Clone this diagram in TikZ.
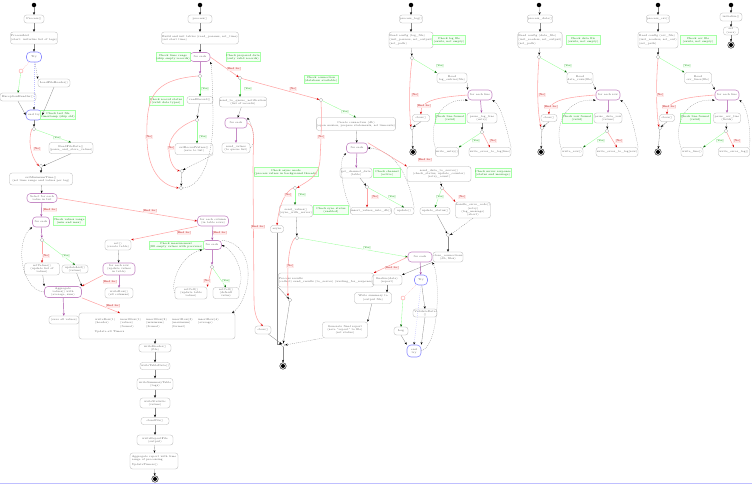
\documentclass[tikz,border=0pt]{standalone}
\usetikzlibrary{arrows.meta,shapes.geometric}
\begin{document}
\begin{tikzpicture}[x=1pt,y=-1pt,
  base/.style={font=\fontsize{2.7}{3.2}\selectfont, text=black!65, inner sep=0.5pt, align=center},
  box/.style={base, draw=black!30, line width=0.3pt, rounded corners=2.5pt},
  note/.style={base, draw=green!35, fill=green!4, text=green!50!black, line width=0.3pt},
  loopb/.style={base, draw=violet!45, line width=0.6pt, rounded corners=3.5pt},
  tryb/.style={base, draw=blue!45, line width=0.6pt, rounded corners=4pt},
  dec/.style={diamond, draw=black!30, line width=0.3pt, minimum size=4pt, inner sep=0},
  startn/.style={circle, fill=black, minimum size=4.5pt, inner sep=0},
  endn/.style={circle, draw=black, line width=0.4pt, minimum size=6.5pt, inner sep=0, path picture={\fill[black] (path picture bounding box.center) circle (2pt);}},
  excn/.style={circle, draw=red!40, minimum size=4pt, inner sep=0, line width=0.4pt},
  wh/.style 2 args={minimum width=#1pt, minimum height=#2pt},
  ar/.style={draw=black!45, line width=0.3pt, -{Stealth[length=2.6pt,width=2pt,color=black]}},
  dar/.style={ar, dash pattern=on 1pt off 1pt},
  yesa/.style={draw=green!40, line width=0.35pt, -{Stealth[length=2.6pt,width=2pt,color=green!40!black]}},
  noa/.style={draw=red!35, line width=0.55pt, -{Stealth[length=2.6pt,width=2pt,color=red!85!black]}},
  pura/.style={draw=violet!45, line width=0.7pt, -{Stealth[length=2.6pt,width=2pt,color=violet!70]}},
  blua/.style={draw=blue!25, line width=0.35pt, dash pattern=on 0.8pt off 1.2pt, -{Stealth[length=2.6pt,width=2pt,color=black]}},
  pinkd/.style={draw=red!30, line width=0.3pt, dash pattern=on 1pt off 1pt},
  ylab/.style={font=\fontsize{2.6}{3}\selectfont, text=green!55!black, fill=green!5, inner sep=0.4pt},
  nlab/.style={font=\fontsize{2.6}{3}\selectfont, text=red!70!black, fill=red!8, inner sep=0.4pt},
]
\useasboundingbox (0,0) rectangle (752,485);
\draw[blue!25, line width=0.6pt] (0,483.5) -- (752,483.5);

% ================= Column A =================
\node[startn] (sA) at (34,5) {};
\node[box, wh={20}{8}] (A2) at (34,19) {Process()};
\node[box, wh={46}{12}, align=left] (A3) at (34,38) {ProcessList\\(start: initialize list of tags)};
\node[tryb, wh={15}{10}] (A4) at (34,57) {Try};
\node[excn] (A5) at (21,71) {};
\node[box, wh={36}{8}] (A6) at (18,97) {ExceptionHandler()};
\node[box, wh={32}{8}] (A7) at (54,83) {LoadFileHeader()};
\node[tryb, wh={16}{10}] (A8) at (34,115) {end try};
\node[note, wh={29}{9}] (A9) at (58,115) {Check last file\\timestamp (skip old)};
\node[dec] (A10) at (34,129) {};
\node[box, wh={38}{11}] (A11) at (71,148) {ReadFileData()\\(parse\_and\_store\_values)};
\node[dec] (A12) at (41,166) {};
\node[box, wh={63}{12}] (A13) at (41,179) {setMinimumTime()\\(set time range and values per tag)};
\node[loopb, wh={30}{9}] (A14) at (42,198) {Select for each\\value in list};
\node[loopb, wh={17}{10}] (A15) at (41,222) {for each};
\node[note, wh={32}{9}] (A16) at (69,221) {Check values range\\(min and max)};
\node[dec] (A17) at (42,240) {};
\node[box, wh={35}{12}] (A18) at (42,269) {setValues()\\(update list of\\values)};
\node[box, wh={26}{8}] (A19) at (75,269) {updateList()\\(values)};
\node[loopb, wh={37}{11}] (A20) at (63,292) {Aggregate\\values() with\\(average, sum)};
\node[box, wh={30}{8}] (D0) at (64,320) {(save all values)};

\draw[ar] (sA) -- (A2);
\draw[ar] (A2) -- (A3);
\draw[ar] (A3) -- (A4);
\draw[pinkd] (A4) -- (A5);
\draw[yesa] (A5) -- (A6.north);
\draw[dar] (A4) -- (A7.north west);
\draw[blua] (A4) -- (A8);
\draw[ar] (A6.south) -- (A8.west);
\draw[ar] (A7.south) -- (A8.east);
\draw[ar] (A8) -- (A10);
\draw[yesa] (A10) -- (A11.north);
\node[ylab] (lA1) at (57,138) {[Yes]};
\draw[noa] (A10.west) .. controls (28,140) and (30,155) .. (A12.west);
\node[nlab] (lA2) at (37,149) {[No]};
\draw[ar] (A11.south) -- (A12.east);
\draw[ar] (A12) -- (A13);
\draw[ar] (A13) -- (A14);
\draw[pura] (A14) -- (A15);
\node[nlab] (lA3) at (50,210) {[End for]};
\draw[pura] (A15) -- (A17);
\draw[noa] (A17) -- (A18);
\node[nlab] (lA4) at (46,256) {[No]};
\draw[yesa] (A17) -- (A19.north);
\node[ylab] (lA5) at (66,256) {[Yes]};
\draw[ar] (A18) -- (A20.north west);
\draw[ar] (A19) -- (A20.north east);
\draw[dar] (A20.west) .. controls (20,290) and (15,240) .. (A15.south west);
\draw[pura] (A20) -- (D0);

% ================= Column C =================
\node[box, wh={26}{10}] (C0) at (118,245) {set()\\(create table)};
\node[loopb, wh={32}{12}] (C1) at (119,269) {for each row\\(update values\\in table)};
\node[box, wh={28}{10}] (C2) at (119,293) {writeRow()\\(all columns)};
\draw[ar] (C0) -- (C1);
\draw[pura] (C1) -- (C2);
\draw[noa] (C1.south west) -- (A20.north east);
\node[nlab] (lC1) at (110,282) {[End for]};

% ================= Column B lower =================
\node[loopb, wh={31}{10}] (B1) at (213,221) {for each column\\(in table rows)};
\node[loopb, wh={19}{9}] (B2) at (212,245) {for each};
\node[note, wh={53}{8}] (Bn2) at (176,245) {Check measurement\\(fill empty values with previous)};
\node[dec] (B3d) at (212,267) {};
\node[box, wh={32}{12}] (B3) at (191,293) {setCell()\\(update table\\values)};
\node[box, wh={26}{11}] (B4) at (226,293) {setCell()\\(default\\value)};
\draw[noa] (A14.east) -- (B1.west);
\node[nlab] (lB1) at (150,211) {[End for]};
\draw[noa] (B1.south west) -- (C0.north east);
\node[nlab] (lB2) at (184,233) {[End for]};
\draw[pura] (B1) -- (B2);
\node[nlab] (lB3) at (220,233) {[End for]};
\draw[pura] (B2) -- (B3d);
\draw[noa] (B3d) -- (B3.north east);
\node[nlab] (lB4) at (207,281) {[No]};
\draw[yesa] (B3d) -- (B4.north);
\node[ylab] (lB5) at (226,281) {[Yes]};
\draw[dar] (B4.north east) .. controls (245,275) and (236,252) .. (B2.east);
\draw[dar] (B3.west) .. controls (170,285) and (180,255) .. (B2.south west);
\draw[dar] (B2.north east) .. controls (260,245) and (250,300) .. (232,313);

% ================= big box and chain =================
\node[box, wh={156}{26}] (D1) at (157,326) {\begin{tabular}{@{}l@{\hspace{5pt}}l@{\hspace{5pt}}l@{\hspace{5pt}}l@{\hspace{5pt}}l@{}}writeRow(1) & insertRow(1) & insertRow(2) & insertRow(3) & insertRow(4)\\(header) & (values) & (minimum) & (maximum) & (average)\\ & (format) & (format) & (format) & \end{tabular}\\[2pt]\hspace*{-95pt}Update all Timers};
\draw[noa] (A20.south east) -- (120,313);
\node[nlab] (lD1) at (113,306) {[End for]};
\node[box, wh={32}{8}] (D2) at (155,348) {writeHeader()\\(file)};
\node[box, wh={30}{7}] (D3) at (155,366) {writeTableData()};
\node[box, wh={36}{11}] (D4) at (155,384) {writeSummaryTable\\(tags)};
\node[box, wh={30}{10}] (D5) at (155,403) {writeStatistic\\(values)};
\node[box, wh={28}{7}] (D6) at (155,421) {closeFile()};
\node[box, wh={36}{10}] (D7) at (155,440) {writeReportFile\\(output)};
\node[box, wh={48}{16}, align=left] (D8) at (154,461) {Aggregate report with time\\range of processing\\[2pt]UpdateTimers()};
\node[endn] (D9) at (155,479) {};
\draw[ar] (D1.south -| D2) -- (D2);
\draw[ar] (D2) -- (D3);
\draw[ar] (D3) -- (D4);
\draw[ar] (D4) -- (D5);
\draw[ar] (D5) -- (D6);
\draw[ar] (D6) -- (D7);
\draw[ar] (D7) -- (D8);
\draw[ar] (D8) -- (D9);

% ================= Column B top =================
\node[startn] (sB) at (200,5) {};
\node[box, wh={24}{8}] (Bb) at (200,19) {process()};
\node[box, wh={76}{12}, align=left] (Bc) at (200,38) {Build and init tables (read\_params, set\_time)\\(set start time)};
\node[loopb, wh={20}{9}] (Bd) at (200,57) {for each};
\node[note, wh={30}{9}] (BnL) at (173,57) {Check time range\\(skip empty records)};
\node[note, wh={32}{9}] (BnR) at (243,57) {Check prepared data\\(only valid records)};
\node[dec] (Be) at (200,76) {};
\node[box, wh={26}{7}] (Bf) at (200,100) {readRecord()};
\node[note, wh={34}{9}] (Bfn) at (166,101) {Check record status\\(valid data types)};
\node[dec] (Bg) at (197,120) {};
\node[box, wh={38}{11}] (Bh) at (194,149) {setRecordValues()\\(save to list)};
\node[dec] (Bn) at (182,171) {};
\node[dec] (Bm) at (181,188) {};
\node[dec] (Bi) at (240,78) {};
\node[box, wh={43}{10}] (Bj) at (243,102) {send\_to\_queue\_notification\\(list of records)};
\node[loopb, wh={22}{10}] (Bl) at (236,123) {for each};
\node[box, wh={28}{10}] (Bo) at (236,148) {send\_values\\(to queue list)};
\node[dec] (Bk) at (321,100) {};
\node[note, wh={29}{8}] (Bkn) at (321,79) {Check connection\\(database available)};
\node[box, wh={16}{8}] (E1) at (263,330) {close()};
\node[dec] (Fz) at (283,345) {};
\node[endn] (Fend) at (283,366) {};

\draw[ar] (sB) -- (Bb);
\draw[ar] (Bb) -- (Bc);
\draw[ar] (Bc) -- (Bd);
\draw[pura] (Bd) -- (Be);
\draw[yesa] (Be) -- (Bf);
\node[ylab] (lBa) at (205,89) {[Yes]};
\draw[noa] (Be.west) .. controls (150,80) and (146,100) .. (147,140) .. controls (148,175) and (165,186) .. (Bm.west);
\node[nlab] (lBb) at (149,137) {[No]};
\draw[ar] (Bf) -- (Bg);
\draw[yesa] (Bg) -- (Bh.north -| Bg);
\node[ylab] (lBc) at (203,137) {[Yes]};
\draw[noa] (Bg.west) .. controls (175,128) and (168,140) .. (169,152) .. controls (170,165) and (176,170) .. (Bn.west);
\node[nlab] (lBd) at (171,148) {[No]};
\draw[dar] (Bh.south east) -- (Bn.north east);
\draw[ar] (Bn) -- (Bm);
\draw[dar] (Bm.east) .. controls (205,186) and (214,150) .. (213,110) .. controls (212,80) and (212,66) .. (Bd.south east);
\draw[noa] (Bd.east) -- (Bi);
\node[nlab] (lBe) at (234,69) {[End for]};
\draw[yesa] (Bi) -- (Bj.north -| Bi);
\node[ylab] (lBf) at (248,89) {[Yes]};
\draw[noa] (Bi) -- (Bk);
\node[nlab] (lBg) at (293,89) {[No]};
\draw[ar] (Bj) -- (Bl);
\draw[pura] (Bl) -- (Bo);
\draw[dar] (Bo.east) .. controls (256,145) and (254,128) .. (Bl.north east);
\draw[noa] (Bl.east) .. controls (256,126) and (253,140) .. (253,170) -- (254,300) .. controls (254,315) and (258,322) .. (E1.north);
\node[nlab] (lBh) at (258,227) {[End for]};
\draw[ar] (E1) -- (Fz);
\draw[ar] (Fz) -- (Fend);

% ================= Column E =================
\node[box, wh={68}{13}] (Ea) at (356,124) {Create connection (db)\\(open session, prepare statements, set timeouts)};
\node[loopb, wh={21}{10}] (Eb) at (357,148) {for each};
\node[box, wh={32}{10}] (Ec) at (356,173) {get\_channel\_data\\(table)};
\node[note, wh={27}{9}] (Ecn) at (387,173) {Check channel\\(active)};
\node[box, wh={64}{15}] (Ed) at (439,174) {send\_data\_to\_server()\\(check\_status, update\_counter)\\(retry\_count)};
\node[note, wh={34}{9}] (Edn) at (493,173) {Check server response\\(status and message)};
\node[dec] (Ee) at (367,187) {};
\node[box, wh={38}{7}] (Ef) at (371,211) {insert\_values\_into\_db()};
\node[box, wh={20}{7}] (Eg) at (404,211) {update()};
\node[dec] (Eh) at (442,188) {};
\node[box, wh={30}{7}] (Ei) at (435,211) {update\_status()};
\node[box, wh={35}{16}] (Ej) at (473,210) {handle\_error\_code()\\(retry)\\(log\_message)\\(abort)};
\node[dec] (Ek) at (448,235) {};
\node[box, wh={30}{10}] (El) at (448,257) {close\_connections\\(db, files)};
\node[loopb, wh={24}{10}] (Em) at (420,257) {for each};
\node[dec] (Ep) at (295,188) {};
\node[note, wh={62}{9}] (Esn) at (286,172) {Check async mode\\(process values in background threads)};
\node[box, wh={32}{12}] (Eq) at (296,211) {send\_values()\\(sync\_with\_server)};
\node[note, wh={35}{9}] (Esn2) at (331,210) {Check sync status\\(enabled)};
\node[box, wh={13}{7}] (Er) at (277,229) {async};
\node[dec] (Et) at (297,238) {};
\node[box, wh={88}{14}, align=left] (Fo) at (326,280) {Process results\\(collect) send\_results (to\_server) (waiting\_for\_response)};
\node[dec] (Fm) at (290,300) {};
\node[box, wh={30}{10}] (Fp) at (387,280) {finalize(data)\\(report)};
\node[box, wh={37}{11}] (Fq) at (373,298) {Write summary to\\(output file)};
\node[box, wh={45}{16}] (Fr) at (345,330) {Generate final report\\(save ``report'' to file)\\(set status)};
\node[tryb, wh={13}{10}] (Fn) at (421,280) {Try};
\node[excn] (Fc) at (403,298) {};
\node[box, wh={14}{8}] (Fs) at (401,331) {Log};
\node[box, wh={24}{8}] (Ft) at (425,313) {ValidateData\\()};
\node[tryb, wh={14}{12}] (Fu) at (414,351) {end\\try};

\draw[yesa] (Bk) -- (Ea.north);
\node[ylab] (lEa) at (345,112) {[Yes]};
\draw[noa] (Bk.south) .. controls (322,120) and (321,140) .. (320,160) .. controls (319,178) and (305,182) .. (Ep.east);
\node[nlab] (lEb) at (321,137) {[No]};
\draw[ar] (Ea) -- (Eb);
\draw[pura] (Eb) -- (Ec);
\draw[ar] (Ec) -- (Ee);
\draw[noa] (Ee) -- (Ef.north -| Ee);
\node[nlab] (lEc) at (375,197) {[No]};
\draw[yesa] (Ee) -- (Eg.north);
\node[ylab] (lEd) at (392,197) {[Yes]};
\draw[dar] (Ef.north west) .. controls (342,190) and (338,160) .. (Eb.south west);
\draw[dar] (Eg.north east) .. controls (410,185) and (400,150) .. (Eb.east);
\draw[noa] (Eb.north east) -- (Ed.north west);
\node[nlab] (lEe) at (425,160) {[End for]};
\draw[ar] (Ed) -- (Eh);
\draw[yesa] (Eh) -- (Ei.north);
\node[ylab] (lEf) at (440,197) {[Yes]};
\draw[noa] (Eh) -- (Ej.north west);
\node[nlab] (lEg) at (462,197) {[No]};
\draw[ar] (Ei) -- (Ek);
\draw[dar] (Ej.south) -- (Ek.east);
\draw[ar] (Ek) -- (El);
\draw[yesa] (Ep) -- (Eq.north -| Ep);
\node[ylab] (lEh) at (302,195) {[Yes]};
\draw[noa] (Ep.west) .. controls (285,192) and (279,205) .. (Er.north);
\node[nlab] (lEi) at (288,195) {[No]};
\draw[ar] (Eq) -- (Et);
\draw[ar] (Er) -- (Er |- Fz.north west) -- (Fz.north west);
\draw[yesa] (Et.east) -- (Em.west);
\node[ylab] (lEj) at (367,248) {[Yes]};
\draw[noa] (Et.west) .. controls (289,245) and (287,262) .. (288,296);
\node[nlab] (lEk) at (290,266) {[No]};
\draw[ar] (Fo.south west) -- (Fm);
\draw[ar] (Fm) -- (Fz);
\draw[pura] (Em) -- (Fn);
\draw[noa] (Em.west) -- (Fo.north east);
\node[nlab] (lEl) at (392,268) {[End for]};
\draw[ar] (El.south west) -- (Fp.north east);
\draw[ar] (Fp) -- (Fq.north -| Fp);
\draw[ar] (Fq) -- (Fr.north east);
\draw[dar] (Fr.south west) -- (Fz.east);
\draw[pinkd] (Fn) -- (Fc);
\draw[yesa] (Fc) -- (Fs.north);
\draw[ar] (Fn) -- (Ft.north);
\draw[blua] (Fn.south) -- (Fu.north);
\draw[ar] (Fs.south) -- (Fu.north west);
\draw[ar] (Ft.south) -- (Fu.north east);
\draw[dar] (Fu.east) .. controls (440,345) and (440,275) .. (Em.south east);

% ================= Column G =================
\node[startn] (sG) at (411,5) {};
\node[box, wh={22}{8}] (G1) at (411,19) {process\_log()};
\node[box, wh={40}{16}, align=left] (G2) at (411,40) {Read config (log\_file)\\(init\_parsers, set\_output)\\[1pt](set\_path)};
\node[note, wh={33}{9}] (G3) at (449,40) {Check log file\\(exists, not empty)};
\node[dec] (G4) at (412,58) {};
\node[box, wh={30}{10}] (G5) at (452,78) {Read\\log\_entries(file)};
\node[loopb, wh={24}{10}] (G7) at (480,95) {for each line};
\node[dec] (G6) at (412,128) {};
\node[box, wh={17}{7}] (G8) at (421,118) {close()};
\node[box, wh={30}{10}] (G9) at (482,118) {parse\_log\_line\\(entry)};
\node[note, wh={30}{10}] (G10) at (450,118) {Check line format\\(valid)};
\node[dec] (G11) at (482,132) {};
\node[box, wh={22}{9}] (G12) at (447,152) {write\_entry()};
\node[box, wh={34}{9}] (G13) at (490,152) {write\_error\_to\_log(line)};
\node[endn] (G14) at (413,152) {};
\draw[ar] (sG) -- (G1);
\draw[ar] (G1) -- (G2);
\draw[ar] (G2) -- (G4);
\draw[yesa] (G4) -- (G5.north west);
\node[ylab] (lG1) at (440,66) {[Yes]};
\draw[noa] (G4.south) .. controls (409,80) and (409,110) .. (G6.north west);
\node[nlab] (lG2) at (415,95) {[No]};
\draw[ar] (G5.south east) -- (G7.north west);
\draw[noa] (G7.west) .. controls (440,97) and (420,100) .. (G8.north);
\node[nlab] (lG3) at (424,106) {[End for]};
\draw[pura] (G7) -- (G9);
\draw[ar] (G9) -- (G11);
\draw[yesa] (G11) -- (G12.north east);
\node[ylab] (lG4) at (476,141) {[Yes]};
\draw[noa] (G11) -- (G13.north);
\node[nlab] (lG5) at (493,141) {[No]};
\draw[dar] (G12.north west) .. controls (428,125) and (440,98) .. (G7.south west);
\draw[dar] (G13.north east) .. controls (506,125) and (500,104) .. (G7.south east);
\draw[ar] (G8.south) -- (G6.north east);
\draw[ar] (G6) -- (G14);

% ================= Column H =================
\node[startn] (sH) at (539,5) {};
\node[box, wh={24}{8}] (H1) at (540,19) {process\_data()};
\node[box, wh={44}{16}, align=left] (H2) at (540,40) {Read config (data\_file)\\(init\_readers, set\_output)\\[1pt](set\_path)};
\node[note, wh={34}{9}] (H3) at (583,40) {Check data file\\(exists, not empty)};
\node[dec] (H4) at (539,57) {};
\node[box, wh={26}{11}] (H5) at (580,78) {Read\\data\_rows(file)};
\node[loopb, wh={24}{10}] (H7) at (608,95) {for each row};
\node[dec] (H6) at (542,128) {};
\node[box, wh={16}{7}] (H8) at (549,118) {close()};
\node[box, wh={28}{10}] (H9) at (608,118) {parse\_data\_row\\(values)};
\node[note, wh={29}{10}] (H10) at (577,118) {Check row format\\(valid)};
\node[dec] (H11) at (607,131) {};
\node[box, wh={22}{9}] (H12) at (572,152) {write\_row()};
\node[box, wh={39}{9}] (H13) at (617,152) {write\_error\_to\_log(row)};
\node[endn] (H14) at (541,152) {};
\draw[ar] (sH) -- (H1);
\draw[ar] (H1) -- (H2);
\draw[ar] (H2) -- (H4);
\draw[yesa] (H4) -- (H5.north west);
\node[ylab] (lH1) at (568,66) {[Yes]};
\draw[noa] (H4.south) .. controls (537,80) and (537,110) .. (H6.north west);
\node[nlab] (lH2) at (542,95) {[No]};
\draw[ar] (H5.south east) -- (H7.north west);
\draw[noa] (H7.west) .. controls (568,97) and (548,100) .. (H8.north);
\node[nlab] (lH3) at (551,107) {[End for]};
\draw[pura] (H7) -- (H9);
\draw[ar] (H9) -- (H11);
\draw[yesa] (H11) -- (H12.north east);
\node[ylab] (lH4) at (601,141) {[Yes]};
\draw[noa] (H11) -- (H13.north);
\node[nlab] (lH5) at (619,141) {[No]};
\draw[dar] (H12.north west) .. controls (554,125) and (566,98) .. (H7.south west);
\draw[dar] (H13.north east) .. controls (634,125) and (628,104) .. (H7.south east);
\draw[ar] (H8.south) -- (H6.north east);
\draw[ar] (H6) -- (H14);

% ================= Column I =================
\node[startn] (sI) at (658,5) {};
\node[box, wh={22}{8}] (I1) at (658,19) {process\_csv()};
\node[box, wh={40}{16}, align=left] (I2) at (658,40) {Read config (csv\_file)\\(init\_readers, set\_out)\\[1pt](set\_path)};
\node[note, wh={36}{9}] (I3) at (698,40) {Check csv file\\(exists, not empty)};
\node[dec] (I4) at (658,57) {};
\node[box, wh={27}{11}] (I5) at (698,78) {Read\\csv\_lines(file)};
\node[loopb, wh={24}{10}] (I7) at (727,95) {for each line};
\node[dec] (I6) at (660,128) {};
\node[box, wh={15}{7}] (I8) at (667,118) {close()};
\node[box, wh={27}{10}] (I9) at (727,118) {parse\_csv\_line\\(fields)};
\node[note, wh={29}{10}] (I10) at (695,118) {Check line format\\(valid)};
\node[dec] (I11) at (726,131) {};
\node[box, wh={22}{9}] (I12) at (692,152) {write\_line()};
\node[box, wh={31}{9}] (I13) at (734,152) {write\_error\_log()};
\node[endn] (I14) at (658,152) {};
\draw[ar] (sI) -- (I1);
\draw[ar] (I1) -- (I2);
\draw[ar] (I2) -- (I4);
\draw[yesa] (I4) -- (I5.north west);
\node[ylab] (lI1) at (687,66) {[Yes]};
\draw[noa] (I4.south) .. controls (656,80) and (656,110) .. (I6.north west);
\node[nlab] (lI2) at (660,95) {[No]};
\draw[ar] (I5.south east) -- (I7.north west);
\draw[noa] (I7.west) .. controls (687,97) and (667,100) .. (I8.north);
\node[nlab] (lI3) at (669,107) {[End for]};
\draw[pura] (I7) -- (I9);
\draw[ar] (I9) -- (I11);
\draw[yesa] (I11) -- (I12.north east);
\node[ylab] (lI4) at (720,141) {[Yes]};
\draw[noa] (I11) -- (I13.north);
\node[nlab] (lI5) at (737,141) {[No]};
\draw[dar] (I12.north west) .. controls (673,125) and (685,98) .. (I7.south west);
\draw[dar] (I13.north east) .. controls (751,125) and (746,104) .. (I7.south east);
\draw[ar] (I8.south) -- (I6.north east);
\draw[ar] (I6) -- (I14);

% ================= Column J =================
\node[startn] (sJ) at (731,5) {};
\node[box, wh={22}{8}] (J1) at (731,17) {initialize()};
\node[box, wh={15}{8}] (J2) at (731,31) {set\\(vars)};
\node[endn] (J3) at (731,45) {};
\draw[ar] (sJ) -- (J1);
\draw[ar] (J1) -- (J2);
\draw[ar] (J2) -- (J3);
\end{tikzpicture}
\end{document}
